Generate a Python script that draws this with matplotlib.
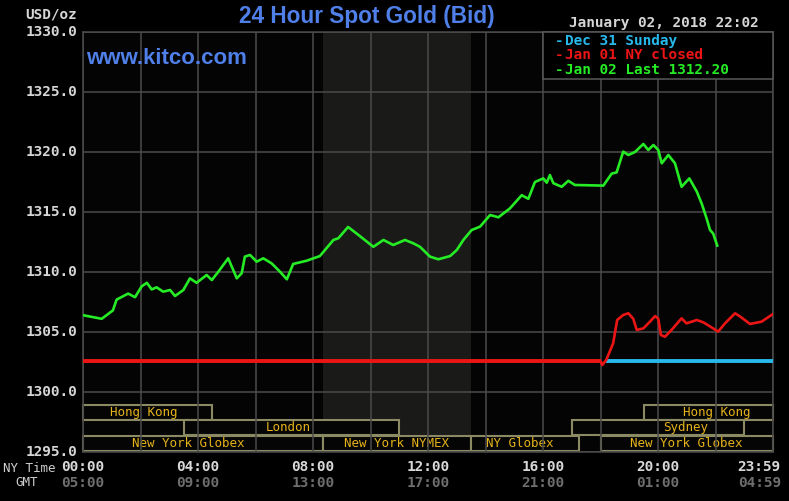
import matplotlib
matplotlib.use("Agg")
import matplotlib.pyplot as plt
from matplotlib.patches import Rectangle
from matplotlib import transforms

# ---------------- data ----------------
green_t = [0.00, 0.65, 1.04, 1.17, 1.57, 1.81, 2.04, 2.22, 2.39, 2.56, 2.79, 3.03, 3.20,
           3.49, 3.72, 3.95, 4.30, 4.48, 4.71, 5.05, 5.35, 5.52, 5.63, 5.81, 6.04, 6.27,
           6.56, 6.85, 7.09, 7.31, 7.78, 8.24, 8.71, 8.88, 9.22, 9.52, 10.10, 10.45, 10.79,
           11.20, 11.49, 11.72, 12.07, 12.36, 12.77, 13.00, 13.23, 13.52, 13.81, 14.16,
           14.45, 14.85, 15.26, 15.49, 15.72, 16.01, 16.13, 16.24, 16.36, 16.65, 16.88,
           17.11, 18.10, 18.39, 18.56, 18.79, 18.97, 19.20, 19.49, 19.66, 19.84, 20.01,
           20.13, 20.36, 20.59, 20.82, 21.09, 21.35, 21.52, 21.69, 21.81, 21.92, 22.06]
green_p = [1306.40, 1306.10, 1306.80, 1307.70, 1308.20, 1307.90, 1308.80, 1309.10, 1308.55,
           1308.72, 1308.36, 1308.50, 1308.00, 1308.50, 1309.47, 1309.10, 1309.75, 1309.33,
           1310.03, 1311.14, 1309.47, 1309.90, 1311.28, 1311.42, 1310.86, 1311.14, 1310.72,
           1310.03, 1309.39, 1310.67, 1310.94, 1311.33, 1312.67, 1312.81, 1313.75, 1313.20,
           1312.10, 1312.67, 1312.25, 1312.67, 1312.39, 1312.10, 1311.28, 1311.06, 1311.33,
           1311.83, 1312.67, 1313.50, 1313.78, 1314.75, 1314.56, 1315.30, 1316.40, 1316.10,
           1317.50, 1317.80, 1317.44, 1318.08, 1317.40, 1317.10, 1317.60, 1317.25, 1317.20,
           1318.20, 1318.30, 1320.03, 1319.75, 1320.00, 1320.67, 1320.17, 1320.58, 1320.17,
           1319.06, 1319.75, 1319.06, 1317.10, 1317.80, 1316.70, 1315.70, 1314.47, 1313.50,
           1313.20, 1312.20]

red_t = [0.00, 18.00, 18.06, 18.20, 18.44, 18.58, 18.79, 18.97, 19.14, 19.26, 19.49, 19.72,
         19.90, 20.01, 20.10, 20.24, 20.47, 20.82, 20.99, 21.35, 21.58, 21.92, 22.09, 22.33,
         22.68, 22.85, 23.20, 23.60, 24.00]
red_p = [1302.58, 1302.58, 1302.25, 1302.67, 1304.06, 1306.00, 1306.42, 1306.56, 1306.10,
         1305.17, 1305.30, 1305.86, 1306.33, 1306.10, 1304.75, 1304.60, 1305.17, 1306.14,
         1305.72, 1306.00, 1305.80, 1305.30, 1305.03, 1305.72, 1306.56, 1306.30, 1305.67,
         1305.86, 1306.50]

cyan_t = [18.20, 24.00]
cyan_p = [1302.60, 1302.60]

legend_labels = ["Dec 31 Sunday", "Jan 01 NY closed", "Jan 02 Last 1312.20"]
y_ticks = [1295, 1300, 1305, 1310, 1315, 1320, 1325, 1330]
x_tick_hours = [0, 4, 8, 12, 16, 20, 24]
ny_labels = ["00:00", "04:00", "08:00", "12:00", "16:00", "20:00", "23:59"]
gmt_labels = ["05:00", "09:00", "13:00", "17:00", "21:00", "01:00", "04:59"]

# sessions: (row, label, start hour, end hour)
session_row = [0, 0, 1, 1, 2, 2, 2, 2]
session_name = ["Hong Kong", "Hong Kong", "London", "Sydney",
                "New York Globex", "New York NYMEX", "NY Globex", "New York Globex"]
session_start = [0.0, 19.5, 3.5, 17.0, 0.0, 8.333, 13.5, 18.0]
session_end = [4.5, 24.0, 11.0, 23.0, 8.333, 13.5, 17.25, 24.0]
label_at = [2.12, 22.05, 7.13, 20.97, 3.65, 10.9, 15.2, 20.97]
floor_hours = (8.333, 13.5)

# ---------------- layout ----------------
W, H = 789, 501
fig = plt.figure(figsize=(W / 100, H / 100), dpi=100, facecolor="black")
L, R, T, B = 83, 773, 32, 452
ax = fig.add_axes([L / W, 1 - B / H, (R - L) / W, (B - T) / H])
ax.set_facecolor("#040404")
ax.set_xlim(0, 24)
ax.set_ylim(1295, 1330)


def fx(x):
    return x / W


def fy(y):
    return 1 - y / H


mono = "DejaVu Sans Mono"
sans = "Liberation Sans"

ax.set_xticks(range(0, 25, 2))
ax.set_yticks(y_ticks)
ax.tick_params(length=0, labelbottom=False, labelleft=False)
ax.grid(True, color="#4b4b4b", lw=1.1, zorder=2.5)
ax.set_axisbelow(False)
for s in ax.spines.values():
    s.set_color("#4b4b4b")
    s.set_linewidth(1.1)

# trading floor shading
ax.axvspan(floor_hours[0], floor_hours[1], color="#1a1b19", zorder=0.5, lw=0)

# session boxes
row_top = [1298.92, 1297.67, 1296.33]
row_h = 1.25
for r, name, s0, s1, lx in zip(session_row, session_name, session_start, session_end, label_at):
    y0 = row_top[r] - row_h
    ax.add_patch(Rectangle((s0, y0), s1 - s0, row_h, facecolor="#050505",
                           edgecolor="#8c8a62", lw=1.5, zorder=1.5, clip_on=False))
    ax.text(lx, y0 + row_h / 2, name, color="#e6b319", fontsize=9, family=mono,
            ha="center", va="center", zorder=1.6)

# series
ax.plot(cyan_t, cyan_p, color="#27b9ec", lw=2.8, zorder=3, solid_capstyle="butt")
ax.plot(red_t, red_p, color="#ec1515", lw=1.9, zorder=3.2)
ax.plot(red_t[:2], red_p[:2], color="#ec1515", lw=2.8, zorder=3.2, solid_capstyle="butt")
ax.plot(green_t, green_p, color="#25ec25", lw=1.9, zorder=3.4)

# y tick labels
bt = transforms.blended_transform_factory(fig.transFigure, ax.transData)
for v in y_ticks:
    ax.text(fx(77), v, f"{v:.1f}", transform=bt, ha="right", va="center",
            color="#d6d6d6", fontsize=10.4, family=mono, fontweight="bold")
fig.text(fx(77), fy(14), "USD/oz", ha="right", va="center", color="#d6d6d6",
         fontsize=10.4, family=mono, fontweight="bold")

# x tick labels
bx = transforms.blended_transform_factory(ax.transData, fig.transFigure)
for h, ny, g in zip(x_tick_hours, ny_labels, gmt_labels):
    if h == 24:
        xx, ha = 24.27, "right"
    else:
        xx, ha = h, "center"
    ax.text(xx, fy(467), ny, transform=bx, ha=ha, va="center", color="#d8d8d8",
            fontsize=10.4, family=mono, fontweight="bold")
    ax.text(xx, fy(483), g, transform=bx, ha=ha, va="center", color="#6e6e6e",
            fontsize=10.4, family=mono, fontweight="bold")
fig.text(fx(3), fy(468), "NY Time", ha="left", va="center", color="#cfcfcf",
         fontsize=9, family=mono)
fig.text(fx(15), fy(483), "GMT", ha="left", va="center", color="#cfcfcf",
         fontsize=9, family=mono)

# title and annotations
fig.text(fx(367), fy(17), "24 Hour Spot Gold (Bid)", ha="center", va="center",
         color="#4f7fe8", fontsize=16.3, family=sans, fontweight="bold")
fig.text(fx(86), fy(58), "www.kitco.com", ha="left", va="center",
         color="#4f7fe8", fontsize=16, family=sans, fontweight="bold")
fig.text(fx(664), fy(23), "January 02, 2018 22:02", ha="center", va="center",
         color="#d6d6d6", fontsize=10.4, family=mono, fontweight="bold")

# legend box
fig.add_artist(Rectangle((fx(543), fy(79)), fx(773) - fx(543), fy(32) - fy(79),
                         transform=fig.transFigure, facecolor="black",
                         edgecolor="#5a5a5a", lw=1.1, zorder=5))
leg_colors = ["#27b9ec", "#ec1515", "#25ec25"]
leg_y = [41, 55, 70]
for lab, c, yy in zip(legend_labels, leg_colors, leg_y):
    fig.text(fx(555), fy(yy), "-", ha="left", va="center", color=c, fontsize=10.4,
             family=mono, fontweight="bold", zorder=6)
    fig.text(fx(565), fy(yy), lab, ha="left", va="center", color=c, fontsize=10.4,
             family=mono, fontweight="bold", zorder=6)

fig.savefig("out.png", dpi=100, facecolor="black")
